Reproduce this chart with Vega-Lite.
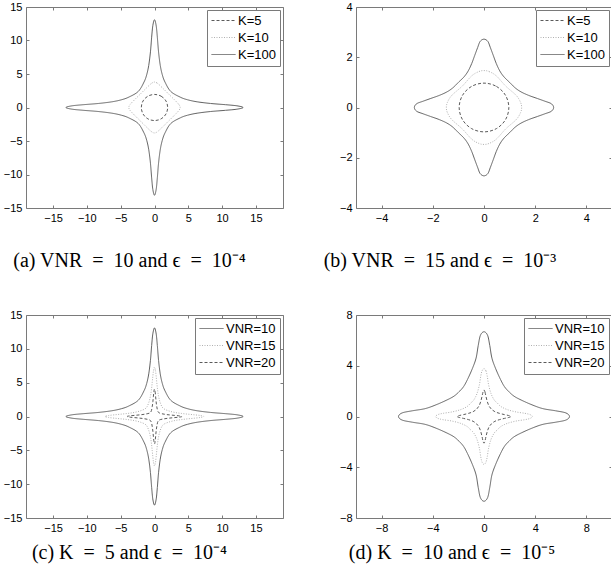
{
  "$schema": "https://vega.github.io/schema/vega-lite/v6.json",
  "padding": {"left": 2, "top": 0, "right": 0, "bottom": 0},
  "background": "white",
  "config": {
    "view": {"stroke": "#7a7a7a", "strokeWidth": 1},
    "axis": {"grid": false, "domain": false, "tickColor": "#7a7a7a", "tickSize": -3, "tickWidth": 1, "labelFont": "Liberation Sans", "labelFontSize": 11, "labelColor": "#000000", "labelPadding": 7, "title": null},
    "legend": {"orient": "top-right", "offset": 3, "padding": 4, "strokeColor": "#7a7a7a", "fillColor": "white", "symbolType": "M-1,0H3", "symbolSize": 144, "symbolStrokeWidth": 1, "labelFont": "Liberation Sans", "labelFontSize": 13, "labelColor": "#000000", "labelOffset": 14, "rowPadding": 3, "title": null, "cornerRadius": 0},
    "line": {"strokeWidth": 1, "interpolate": "cardinal-closed"},
    "title": {"font": "Liberation Serif", "fontSize": 20, "fontWeight": "normal", "color": "#000000", "orient": "bottom", "anchor": "middle"}
  },
  "datasets": {
    "a": [
      {"s":"K=100","x":0,"y":13.1},{"s":"K=100","x":0.25,"y":12.2},{"s":"K=100","x":0.42,"y":10.5},{"s":"K=100","x":0.6,"y":8.3},{"s":"K=100","x":0.85,"y":6.3},{"s":"K=100","x":1.15,"y":4.9},{"s":"K=100","x":1.55,"y":3.8},{"s":"K=100","x":2.4,"y":2.4},{"s":"K=100","x":3.8,"y":1.55},{"s":"K=100","x":4.9,"y":1.15},{"s":"K=100","x":6.3,"y":0.85},{"s":"K=100","x":8.3,"y":0.6},{"s":"K=100","x":10.5,"y":0.42},{"s":"K=100","x":12.2,"y":0.25},{"s":"K=100","x":13.1,"y":0},
      {"s":"K=100","x":12.2,"y":-0.25},{"s":"K=100","x":10.5,"y":-0.42},{"s":"K=100","x":8.3,"y":-0.6},{"s":"K=100","x":6.3,"y":-0.85},{"s":"K=100","x":4.9,"y":-1.15},{"s":"K=100","x":3.8,"y":-1.55},{"s":"K=100","x":2.4,"y":-2.4},{"s":"K=100","x":1.55,"y":-3.8},{"s":"K=100","x":1.15,"y":-4.9},{"s":"K=100","x":0.85,"y":-6.3},{"s":"K=100","x":0.6,"y":-8.3},{"s":"K=100","x":0.42,"y":-10.5},{"s":"K=100","x":0.25,"y":-12.2},{"s":"K=100","x":0,"y":-13.1},
      {"s":"K=100","x":-0.25,"y":-12.2},{"s":"K=100","x":-0.42,"y":-10.5},{"s":"K=100","x":-0.6,"y":-8.3},{"s":"K=100","x":-0.85,"y":-6.3},{"s":"K=100","x":-1.15,"y":-4.9},{"s":"K=100","x":-1.55,"y":-3.8},{"s":"K=100","x":-2.4,"y":-2.4},{"s":"K=100","x":-3.8,"y":-1.55},{"s":"K=100","x":-4.9,"y":-1.15},{"s":"K=100","x":-6.3,"y":-0.85},{"s":"K=100","x":-8.3,"y":-0.6},{"s":"K=100","x":-10.5,"y":-0.42},{"s":"K=100","x":-12.2,"y":-0.25},{"s":"K=100","x":-13.1,"y":0},
      {"s":"K=100","x":-12.2,"y":0.25},{"s":"K=100","x":-10.5,"y":0.42},{"s":"K=100","x":-8.3,"y":0.6},{"s":"K=100","x":-6.3,"y":0.85},{"s":"K=100","x":-4.9,"y":1.15},{"s":"K=100","x":-3.8,"y":1.55},{"s":"K=100","x":-2.4,"y":2.4},{"s":"K=100","x":-1.55,"y":3.8},{"s":"K=100","x":-1.15,"y":4.9},{"s":"K=100","x":-0.85,"y":6.3},{"s":"K=100","x":-0.6,"y":8.3},{"s":"K=100","x":-0.42,"y":10.5},{"s":"K=100","x":-0.25,"y":12.2},
      {"s":"K=10","x":0,"y":3.8},{"s":"K=10","x":0.45,"y":3.6},{"s":"K=10","x":1.1,"y":3},{"s":"K=10","x":2.05,"y":2.05},{"s":"K=10","x":3,"y":1.1},{"s":"K=10","x":3.6,"y":0.45},{"s":"K=10","x":3.8,"y":0},
      {"s":"K=10","x":3.6,"y":-0.45},{"s":"K=10","x":3,"y":-1.1},{"s":"K=10","x":2.05,"y":-2.05},{"s":"K=10","x":1.1,"y":-3},{"s":"K=10","x":0.45,"y":-3.6},{"s":"K=10","x":0,"y":-3.8},
      {"s":"K=10","x":-0.45,"y":-3.6},{"s":"K=10","x":-1.1,"y":-3},{"s":"K=10","x":-2.05,"y":-2.05},{"s":"K=10","x":-3,"y":-1.1},{"s":"K=10","x":-3.6,"y":-0.45},{"s":"K=10","x":-3.8,"y":0},
      {"s":"K=10","x":-3.6,"y":0.45},{"s":"K=10","x":-3,"y":1.1},{"s":"K=10","x":-2.05,"y":2.05},{"s":"K=10","x":-1.1,"y":3},{"s":"K=10","x":-0.45,"y":3.6},
      {"s":"K=5","x":0,"y":1.95},{"s":"K=5","x":0.98,"y":1.69},{"s":"K=5","x":1.69,"y":0.98},{"s":"K=5","x":1.95,"y":0},{"s":"K=5","x":1.69,"y":-0.98},{"s":"K=5","x":0.98,"y":-1.69},{"s":"K=5","x":0,"y":-1.95},{"s":"K=5","x":-0.98,"y":-1.69},{"s":"K=5","x":-1.69,"y":-0.98},{"s":"K=5","x":-1.95,"y":0},{"s":"K=5","x":-1.69,"y":0.98},{"s":"K=5","x":-0.98,"y":1.69}
    ],
    "b": [
      {"s":"K=100","x":0,"y":2.72},{"s":"K=100","x":0.15,"y":2.63},{"s":"K=100","x":0.25,"y":2.38},{"s":"K=100","x":0.36,"y":2.08},{"s":"K=100","x":0.48,"y":1.75},{"s":"K=100","x":0.62,"y":1.45},{"s":"K=100","x":0.78,"y":1.22},{"s":"K=100","x":1,"y":1},{"s":"K=100","x":1.22,"y":0.78},{"s":"K=100","x":1.45,"y":0.62},{"s":"K=100","x":1.75,"y":0.48},{"s":"K=100","x":2.08,"y":0.36},{"s":"K=100","x":2.38,"y":0.25},{"s":"K=100","x":2.63,"y":0.15},{"s":"K=100","x":2.72,"y":0},
      {"s":"K=100","x":2.63,"y":-0.15},{"s":"K=100","x":2.38,"y":-0.25},{"s":"K=100","x":2.08,"y":-0.36},{"s":"K=100","x":1.75,"y":-0.48},{"s":"K=100","x":1.45,"y":-0.62},{"s":"K=100","x":1.22,"y":-0.78},{"s":"K=100","x":1,"y":-1},{"s":"K=100","x":0.78,"y":-1.22},{"s":"K=100","x":0.62,"y":-1.45},{"s":"K=100","x":0.48,"y":-1.75},{"s":"K=100","x":0.36,"y":-2.08},{"s":"K=100","x":0.25,"y":-2.38},{"s":"K=100","x":0.15,"y":-2.63},{"s":"K=100","x":0,"y":-2.72},
      {"s":"K=100","x":-0.15,"y":-2.63},{"s":"K=100","x":-0.25,"y":-2.38},{"s":"K=100","x":-0.36,"y":-2.08},{"s":"K=100","x":-0.48,"y":-1.75},{"s":"K=100","x":-0.62,"y":-1.45},{"s":"K=100","x":-0.78,"y":-1.22},{"s":"K=100","x":-1,"y":-1},{"s":"K=100","x":-1.22,"y":-0.78},{"s":"K=100","x":-1.45,"y":-0.62},{"s":"K=100","x":-1.75,"y":-0.48},{"s":"K=100","x":-2.08,"y":-0.36},{"s":"K=100","x":-2.38,"y":-0.25},{"s":"K=100","x":-2.63,"y":-0.15},{"s":"K=100","x":-2.72,"y":0},
      {"s":"K=100","x":-2.63,"y":0.15},{"s":"K=100","x":-2.38,"y":0.25},{"s":"K=100","x":-2.08,"y":0.36},{"s":"K=100","x":-1.75,"y":0.48},{"s":"K=100","x":-1.45,"y":0.62},{"s":"K=100","x":-1.22,"y":0.78},{"s":"K=100","x":-1,"y":1},{"s":"K=100","x":-0.78,"y":1.22},{"s":"K=100","x":-0.62,"y":1.45},{"s":"K=100","x":-0.48,"y":1.75},{"s":"K=100","x":-0.36,"y":2.08},{"s":"K=100","x":-0.25,"y":2.38},{"s":"K=100","x":-0.15,"y":2.63},
      {"s":"K=10","x":0,"y":1.47},{"s":"K=10","x":0.2,"y":1.43},{"s":"K=10","x":0.48,"y":1.26},{"s":"K=10","x":0.85,"y":0.85},{"s":"K=10","x":1.26,"y":0.48},{"s":"K=10","x":1.43,"y":0.2},{"s":"K=10","x":1.47,"y":0},
      {"s":"K=10","x":1.43,"y":-0.2},{"s":"K=10","x":1.26,"y":-0.48},{"s":"K=10","x":0.85,"y":-0.85},{"s":"K=10","x":0.48,"y":-1.26},{"s":"K=10","x":0.2,"y":-1.43},{"s":"K=10","x":0,"y":-1.47},
      {"s":"K=10","x":-0.2,"y":-1.43},{"s":"K=10","x":-0.48,"y":-1.26},{"s":"K=10","x":-0.85,"y":-0.85},{"s":"K=10","x":-1.26,"y":-0.48},{"s":"K=10","x":-1.43,"y":-0.2},{"s":"K=10","x":-1.47,"y":0},
      {"s":"K=10","x":-1.43,"y":0.2},{"s":"K=10","x":-1.26,"y":0.48},{"s":"K=10","x":-0.85,"y":0.85},{"s":"K=10","x":-0.48,"y":1.26},{"s":"K=10","x":-0.2,"y":1.43},
      {"s":"K=5","x":0,"y":0.97},{"s":"K=5","x":0.485,"y":0.84},{"s":"K=5","x":0.84,"y":0.485},{"s":"K=5","x":0.97,"y":0},{"s":"K=5","x":0.84,"y":-0.485},{"s":"K=5","x":0.485,"y":-0.84},{"s":"K=5","x":0,"y":-0.97},{"s":"K=5","x":-0.485,"y":-0.84},{"s":"K=5","x":-0.84,"y":-0.485},{"s":"K=5","x":-0.97,"y":0},{"s":"K=5","x":-0.84,"y":0.485},{"s":"K=5","x":-0.485,"y":0.84}
    ],
    "c": [
      {"s":"VNR=10","x":0,"y":13.1},{"s":"VNR=10","x":0.25,"y":12.2},{"s":"VNR=10","x":0.42,"y":10.5},{"s":"VNR=10","x":0.6,"y":8.3},{"s":"VNR=10","x":0.85,"y":6.3},{"s":"VNR=10","x":1.15,"y":4.9},{"s":"VNR=10","x":1.55,"y":3.8},{"s":"VNR=10","x":2.4,"y":2.4},{"s":"VNR=10","x":3.8,"y":1.55},{"s":"VNR=10","x":4.9,"y":1.15},{"s":"VNR=10","x":6.3,"y":0.85},{"s":"VNR=10","x":8.3,"y":0.6},{"s":"VNR=10","x":10.5,"y":0.42},{"s":"VNR=10","x":12.2,"y":0.25},{"s":"VNR=10","x":13.1,"y":0},
      {"s":"VNR=10","x":12.2,"y":-0.25},{"s":"VNR=10","x":10.5,"y":-0.42},{"s":"VNR=10","x":8.3,"y":-0.6},{"s":"VNR=10","x":6.3,"y":-0.85},{"s":"VNR=10","x":4.9,"y":-1.15},{"s":"VNR=10","x":3.8,"y":-1.55},{"s":"VNR=10","x":2.4,"y":-2.4},{"s":"VNR=10","x":1.55,"y":-3.8},{"s":"VNR=10","x":1.15,"y":-4.9},{"s":"VNR=10","x":0.85,"y":-6.3},{"s":"VNR=10","x":0.6,"y":-8.3},{"s":"VNR=10","x":0.42,"y":-10.5},{"s":"VNR=10","x":0.25,"y":-12.2},{"s":"VNR=10","x":0,"y":-13.1},
      {"s":"VNR=10","x":-0.25,"y":-12.2},{"s":"VNR=10","x":-0.42,"y":-10.5},{"s":"VNR=10","x":-0.6,"y":-8.3},{"s":"VNR=10","x":-0.85,"y":-6.3},{"s":"VNR=10","x":-1.15,"y":-4.9},{"s":"VNR=10","x":-1.55,"y":-3.8},{"s":"VNR=10","x":-2.4,"y":-2.4},{"s":"VNR=10","x":-3.8,"y":-1.55},{"s":"VNR=10","x":-4.9,"y":-1.15},{"s":"VNR=10","x":-6.3,"y":-0.85},{"s":"VNR=10","x":-8.3,"y":-0.6},{"s":"VNR=10","x":-10.5,"y":-0.42},{"s":"VNR=10","x":-12.2,"y":-0.25},{"s":"VNR=10","x":-13.1,"y":0},
      {"s":"VNR=10","x":-12.2,"y":0.25},{"s":"VNR=10","x":-10.5,"y":0.42},{"s":"VNR=10","x":-8.3,"y":0.6},{"s":"VNR=10","x":-6.3,"y":0.85},{"s":"VNR=10","x":-4.9,"y":1.15},{"s":"VNR=10","x":-3.8,"y":1.55},{"s":"VNR=10","x":-2.4,"y":2.4},{"s":"VNR=10","x":-1.55,"y":3.8},{"s":"VNR=10","x":-1.15,"y":4.9},{"s":"VNR=10","x":-0.85,"y":6.3},{"s":"VNR=10","x":-0.6,"y":8.3},{"s":"VNR=10","x":-0.42,"y":10.5},{"s":"VNR=10","x":-0.25,"y":12.2},
      {"s":"VNR=15","x":0,"y":7.3},{"s":"VNR=15","x":0.14,"y":6.8},{"s":"VNR=15","x":0.24,"y":6},{"s":"VNR=15","x":0.34,"y":5},{"s":"VNR=15","x":0.45,"y":4},{"s":"VNR=15","x":0.6,"y":3},{"s":"VNR=15","x":0.85,"y":2.05},{"s":"VNR=15","x":1.25,"y":1.25},{"s":"VNR=15","x":2.05,"y":0.85},{"s":"VNR=15","x":3,"y":0.6},{"s":"VNR=15","x":4,"y":0.45},{"s":"VNR=15","x":5,"y":0.34},{"s":"VNR=15","x":6,"y":0.24},{"s":"VNR=15","x":6.8,"y":0.14},{"s":"VNR=15","x":7.3,"y":0},
      {"s":"VNR=15","x":6.8,"y":-0.14},{"s":"VNR=15","x":6,"y":-0.24},{"s":"VNR=15","x":5,"y":-0.34},{"s":"VNR=15","x":4,"y":-0.45},{"s":"VNR=15","x":3,"y":-0.6},{"s":"VNR=15","x":2.05,"y":-0.85},{"s":"VNR=15","x":1.25,"y":-1.25},{"s":"VNR=15","x":0.85,"y":-2.05},{"s":"VNR=15","x":0.6,"y":-3},{"s":"VNR=15","x":0.45,"y":-4},{"s":"VNR=15","x":0.34,"y":-5},{"s":"VNR=15","x":0.24,"y":-6},{"s":"VNR=15","x":0.14,"y":-6.8},{"s":"VNR=15","x":0,"y":-7.3},
      {"s":"VNR=15","x":-0.14,"y":-6.8},{"s":"VNR=15","x":-0.24,"y":-6},{"s":"VNR=15","x":-0.34,"y":-5},{"s":"VNR=15","x":-0.45,"y":-4},{"s":"VNR=15","x":-0.6,"y":-3},{"s":"VNR=15","x":-0.85,"y":-2.05},{"s":"VNR=15","x":-1.25,"y":-1.25},{"s":"VNR=15","x":-2.05,"y":-0.85},{"s":"VNR=15","x":-3,"y":-0.6},{"s":"VNR=15","x":-4,"y":-0.45},{"s":"VNR=15","x":-5,"y":-0.34},{"s":"VNR=15","x":-6,"y":-0.24},{"s":"VNR=15","x":-6.8,"y":-0.14},{"s":"VNR=15","x":-7.3,"y":0},
      {"s":"VNR=15","x":-6.8,"y":0.14},{"s":"VNR=15","x":-6,"y":0.24},{"s":"VNR=15","x":-5,"y":0.34},{"s":"VNR=15","x":-4,"y":0.45},{"s":"VNR=15","x":-3,"y":0.6},{"s":"VNR=15","x":-2.05,"y":0.85},{"s":"VNR=15","x":-1.25,"y":1.25},{"s":"VNR=15","x":-0.85,"y":2.05},{"s":"VNR=15","x":-0.6,"y":3},{"s":"VNR=15","x":-0.45,"y":4},{"s":"VNR=15","x":-0.34,"y":5},{"s":"VNR=15","x":-0.24,"y":6},{"s":"VNR=15","x":-0.14,"y":6.8},
      {"s":"VNR=20","x":0,"y":4.05},{"s":"VNR=20","x":0.09,"y":3.7},{"s":"VNR=20","x":0.16,"y":3},{"s":"VNR=20","x":0.24,"y":2.2},{"s":"VNR=20","x":0.34,"y":1.45},{"s":"VNR=20","x":0.6,"y":0.6},{"s":"VNR=20","x":1.45,"y":0.34},{"s":"VNR=20","x":2.2,"y":0.24},{"s":"VNR=20","x":3,"y":0.16},{"s":"VNR=20","x":3.7,"y":0.09},{"s":"VNR=20","x":4.05,"y":0},
      {"s":"VNR=20","x":3.7,"y":-0.09},{"s":"VNR=20","x":3,"y":-0.16},{"s":"VNR=20","x":2.2,"y":-0.24},{"s":"VNR=20","x":1.45,"y":-0.34},{"s":"VNR=20","x":0.6,"y":-0.6},{"s":"VNR=20","x":0.34,"y":-1.45},{"s":"VNR=20","x":0.24,"y":-2.2},{"s":"VNR=20","x":0.16,"y":-3},{"s":"VNR=20","x":0.09,"y":-3.7},{"s":"VNR=20","x":0,"y":-4.05},
      {"s":"VNR=20","x":-0.09,"y":-3.7},{"s":"VNR=20","x":-0.16,"y":-3},{"s":"VNR=20","x":-0.24,"y":-2.2},{"s":"VNR=20","x":-0.34,"y":-1.45},{"s":"VNR=20","x":-0.6,"y":-0.6},{"s":"VNR=20","x":-1.45,"y":-0.34},{"s":"VNR=20","x":-2.2,"y":-0.24},{"s":"VNR=20","x":-3,"y":-0.16},{"s":"VNR=20","x":-3.7,"y":-0.09},{"s":"VNR=20","x":-4.05,"y":0},
      {"s":"VNR=20","x":-3.7,"y":0.09},{"s":"VNR=20","x":-3,"y":0.16},{"s":"VNR=20","x":-2.2,"y":0.24},{"s":"VNR=20","x":-1.45,"y":0.34},{"s":"VNR=20","x":-0.6,"y":0.6},{"s":"VNR=20","x":-0.34,"y":1.45},{"s":"VNR=20","x":-0.24,"y":2.2},{"s":"VNR=20","x":-0.16,"y":3},{"s":"VNR=20","x":-0.09,"y":3.7}
    ],
    "d": [
      {"s":"VNR=10","x":0,"y":6.68},{"s":"VNR=10","x":0.28,"y":6.4},{"s":"VNR=10","x":0.45,"y":5.6},{"s":"VNR=10","x":0.62,"y":4.6},{"s":"VNR=10","x":0.92,"y":3.75},{"s":"VNR=10","x":1.3,"y":2.9},{"s":"VNR=10","x":1.6,"y":2.35},{"s":"VNR=10","x":1.95,"y":1.95},{"s":"VNR=10","x":2.35,"y":1.6},{"s":"VNR=10","x":2.9,"y":1.3},{"s":"VNR=10","x":3.75,"y":0.92},{"s":"VNR=10","x":4.6,"y":0.62},{"s":"VNR=10","x":5.6,"y":0.45},{"s":"VNR=10","x":6.4,"y":0.28},{"s":"VNR=10","x":6.68,"y":0},
      {"s":"VNR=10","x":6.4,"y":-0.28},{"s":"VNR=10","x":5.6,"y":-0.45},{"s":"VNR=10","x":4.6,"y":-0.62},{"s":"VNR=10","x":3.75,"y":-0.92},{"s":"VNR=10","x":2.9,"y":-1.3},{"s":"VNR=10","x":2.35,"y":-1.6},{"s":"VNR=10","x":1.95,"y":-1.95},{"s":"VNR=10","x":1.6,"y":-2.35},{"s":"VNR=10","x":1.3,"y":-2.9},{"s":"VNR=10","x":0.92,"y":-3.75},{"s":"VNR=10","x":0.62,"y":-4.6},{"s":"VNR=10","x":0.45,"y":-5.6},{"s":"VNR=10","x":0.28,"y":-6.4},{"s":"VNR=10","x":0,"y":-6.68},
      {"s":"VNR=10","x":-0.28,"y":-6.4},{"s":"VNR=10","x":-0.45,"y":-5.6},{"s":"VNR=10","x":-0.62,"y":-4.6},{"s":"VNR=10","x":-0.92,"y":-3.75},{"s":"VNR=10","x":-1.3,"y":-2.9},{"s":"VNR=10","x":-1.6,"y":-2.35},{"s":"VNR=10","x":-1.95,"y":-1.95},{"s":"VNR=10","x":-2.35,"y":-1.6},{"s":"VNR=10","x":-2.9,"y":-1.3},{"s":"VNR=10","x":-3.75,"y":-0.92},{"s":"VNR=10","x":-4.6,"y":-0.62},{"s":"VNR=10","x":-5.6,"y":-0.45},{"s":"VNR=10","x":-6.4,"y":-0.28},{"s":"VNR=10","x":-6.68,"y":0},
      {"s":"VNR=10","x":-6.4,"y":0.28},{"s":"VNR=10","x":-5.6,"y":0.45},{"s":"VNR=10","x":-4.6,"y":0.62},{"s":"VNR=10","x":-3.75,"y":0.92},{"s":"VNR=10","x":-2.9,"y":1.3},{"s":"VNR=10","x":-2.35,"y":1.6},{"s":"VNR=10","x":-1.95,"y":1.95},{"s":"VNR=10","x":-1.6,"y":2.35},{"s":"VNR=10","x":-1.3,"y":2.9},{"s":"VNR=10","x":-0.92,"y":3.75},{"s":"VNR=10","x":-0.62,"y":4.6},{"s":"VNR=10","x":-0.45,"y":5.6},{"s":"VNR=10","x":-0.28,"y":6.4},
      {"s":"VNR=15","x":0,"y":3.78},{"s":"VNR=15","x":0.15,"y":3.6},{"s":"VNR=15","x":0.25,"y":3.2},{"s":"VNR=15","x":0.36,"y":2.5},{"s":"VNR=15","x":0.55,"y":1.8},{"s":"VNR=15","x":0.8,"y":1.3},{"s":"VNR=15","x":1.05,"y":1.05},{"s":"VNR=15","x":1.3,"y":0.8},{"s":"VNR=15","x":1.8,"y":0.55},{"s":"VNR=15","x":2.5,"y":0.36},{"s":"VNR=15","x":3.2,"y":0.25},{"s":"VNR=15","x":3.6,"y":0.15},{"s":"VNR=15","x":3.78,"y":0},
      {"s":"VNR=15","x":3.6,"y":-0.15},{"s":"VNR=15","x":3.2,"y":-0.25},{"s":"VNR=15","x":2.5,"y":-0.36},{"s":"VNR=15","x":1.8,"y":-0.55},{"s":"VNR=15","x":1.3,"y":-0.8},{"s":"VNR=15","x":1.05,"y":-1.05},{"s":"VNR=15","x":0.8,"y":-1.3},{"s":"VNR=15","x":0.55,"y":-1.8},{"s":"VNR=15","x":0.36,"y":-2.5},{"s":"VNR=15","x":0.25,"y":-3.2},{"s":"VNR=15","x":0.15,"y":-3.6},{"s":"VNR=15","x":0,"y":-3.78},
      {"s":"VNR=15","x":-0.15,"y":-3.6},{"s":"VNR=15","x":-0.25,"y":-3.2},{"s":"VNR=15","x":-0.36,"y":-2.5},{"s":"VNR=15","x":-0.55,"y":-1.8},{"s":"VNR=15","x":-0.8,"y":-1.3},{"s":"VNR=15","x":-1.05,"y":-1.05},{"s":"VNR=15","x":-1.3,"y":-0.8},{"s":"VNR=15","x":-1.8,"y":-0.55},{"s":"VNR=15","x":-2.5,"y":-0.36},{"s":"VNR=15","x":-3.2,"y":-0.25},{"s":"VNR=15","x":-3.6,"y":-0.15},{"s":"VNR=15","x":-3.78,"y":0},
      {"s":"VNR=15","x":-3.6,"y":0.15},{"s":"VNR=15","x":-3.2,"y":0.25},{"s":"VNR=15","x":-2.5,"y":0.36},{"s":"VNR=15","x":-1.8,"y":0.55},{"s":"VNR=15","x":-1.3,"y":0.8},{"s":"VNR=15","x":-1.05,"y":1.05},{"s":"VNR=15","x":-0.8,"y":1.3},{"s":"VNR=15","x":-0.55,"y":1.8},{"s":"VNR=15","x":-0.36,"y":2.5},{"s":"VNR=15","x":-0.25,"y":3.2},{"s":"VNR=15","x":-0.15,"y":3.6},
      {"s":"VNR=20","x":0,"y":2.1},{"s":"VNR=20","x":0.08,"y":1.92},{"s":"VNR=20","x":0.15,"y":1.6},{"s":"VNR=20","x":0.25,"y":1.2},{"s":"VNR=20","x":0.38,"y":0.85},{"s":"VNR=20","x":0.58,"y":0.58},{"s":"VNR=20","x":0.85,"y":0.38},{"s":"VNR=20","x":1.2,"y":0.25},{"s":"VNR=20","x":1.6,"y":0.15},{"s":"VNR=20","x":1.92,"y":0.08},{"s":"VNR=20","x":2.1,"y":0},
      {"s":"VNR=20","x":1.92,"y":-0.08},{"s":"VNR=20","x":1.6,"y":-0.15},{"s":"VNR=20","x":1.2,"y":-0.25},{"s":"VNR=20","x":0.85,"y":-0.38},{"s":"VNR=20","x":0.58,"y":-0.58},{"s":"VNR=20","x":0.38,"y":-0.85},{"s":"VNR=20","x":0.25,"y":-1.2},{"s":"VNR=20","x":0.15,"y":-1.6},{"s":"VNR=20","x":0.08,"y":-1.92},{"s":"VNR=20","x":0,"y":-2.1},
      {"s":"VNR=20","x":-0.08,"y":-1.92},{"s":"VNR=20","x":-0.15,"y":-1.6},{"s":"VNR=20","x":-0.25,"y":-1.2},{"s":"VNR=20","x":-0.38,"y":-0.85},{"s":"VNR=20","x":-0.58,"y":-0.58},{"s":"VNR=20","x":-0.85,"y":-0.38},{"s":"VNR=20","x":-1.2,"y":-0.25},{"s":"VNR=20","x":-1.6,"y":-0.15},{"s":"VNR=20","x":-1.92,"y":-0.08},{"s":"VNR=20","x":-2.1,"y":0},
      {"s":"VNR=20","x":-1.92,"y":0.08},{"s":"VNR=20","x":-1.6,"y":0.15},{"s":"VNR=20","x":-1.2,"y":0.25},{"s":"VNR=20","x":-0.85,"y":0.38},{"s":"VNR=20","x":-0.58,"y":0.58},{"s":"VNR=20","x":-0.38,"y":0.85},{"s":"VNR=20","x":-0.25,"y":1.2},{"s":"VNR=20","x":-0.15,"y":1.6},{"s":"VNR=20","x":-0.08,"y":1.92}
    ]
  },
  "bounds": "flush",
  "columns": 2,
  "spacing": {"row": 107, "column": 73},
  "resolve": {"scale": {"color": "independent", "strokeDash": "independent", "x": "independent", "y": "independent"}, "legend": {"color": "independent", "strokeDash": "independent"}},
  "concat": [
    {
      "width": 257, "height": 201,
      "title": {"text": "(a) VNR\u2002=\u200210 and ϵ\u2002=\u200210⁻⁴", "offset": 28, "dx": -25},
      "data": {"name": "a"},
      "layer": [
        {"mark": {"type": "line"},
         "encoding": {
           "x": {"field": "x", "type": "quantitative", "scale": {"domain": [-19, 19], "nice": false, "zero": false}, "axis": {"orient": "bottom", "values": [-15, -10, -5, 0, 5, 10, 15]}},
           "y": {"field": "y", "type": "quantitative", "scale": {"domain": [-15, 15], "nice": false, "zero": false}, "axis": {"orient": "left", "values": [-15, -10, -5, 0, 5, 10, 15]}},
           "color": {"field": "s", "type": "nominal", "scale": {"domain": ["K=5", "K=10", "K=100"], "range": ["#5a5a5a", "#b0b0b0", "#606060"]}, "legend": {"title": null}},
           "strokeDash": {"field": "s", "type": "nominal", "scale": {"domain": ["K=5", "K=10", "K=100"], "range": [[3, 2], [1, 1.5], [1, 0]]}, "legend": {"title": null}},
           "order": {"value": null}
         }},
        {"mark": {"type": "point", "opacity": 0},
         "encoding": {
           "x": {"field": "x", "type": "quantitative", "axis": {"orient": "top", "labels": false, "values": [-15, -10, -5, 0, 5, 10, 15]}},
           "y": {"field": "y", "type": "quantitative", "axis": {"orient": "right", "labels": false, "values": [-15, -10, -5, 0, 5, 10, 15]}}
         }}
      ],
      "resolve": {"axis": {"x": "independent", "y": "independent"}}
    },
    {
      "width": 256, "height": 201,
      "title": {"text": "(b) VNR\u2002=\u200215 and ϵ\u2002=\u200210⁻³", "offset": 28, "dx": -44},
      "data": {"name": "b"},
      "layer": [
        {"mark": {"type": "line"},
         "encoding": {
           "x": {"field": "x", "type": "quantitative", "scale": {"domain": [-5, 5], "nice": false, "zero": false}, "axis": {"orient": "bottom", "values": [-4, -2, 0, 2, 4]}},
           "y": {"field": "y", "type": "quantitative", "scale": {"domain": [-4, 4], "nice": false, "zero": false}, "axis": {"orient": "left", "values": [-4, -2, 0, 2, 4]}},
           "color": {"field": "s", "type": "nominal", "scale": {"domain": ["K=5", "K=10", "K=100"], "range": ["#5a5a5a", "#b0b0b0", "#606060"]}, "legend": {"title": null}},
           "strokeDash": {"field": "s", "type": "nominal", "scale": {"domain": ["K=5", "K=10", "K=100"], "range": [[3, 2], [1, 1.5], [1, 0]]}, "legend": {"title": null}},
           "order": {"value": null}
         }},
        {"mark": {"type": "point", "opacity": 0},
         "encoding": {
           "x": {"field": "x", "type": "quantitative", "axis": {"orient": "top", "labels": false, "values": [-4, -2, 0, 2, 4]}},
           "y": {"field": "y", "type": "quantitative", "axis": {"orient": "right", "labels": false, "values": [-4, -2, 0, 2, 4]}}
         }}
      ],
      "resolve": {"axis": {"x": "independent", "y": "independent"}}
    },
    {
      "width": 257, "height": 203,
      "title": {"text": "(c) K\u2002=\u20025 and ϵ\u2002=\u200210⁻⁴", "offset": 10, "dx": -25},
      "data": {"name": "c"},
      "layer": [
        {"mark": {"type": "line"},
         "encoding": {
           "x": {"field": "x", "type": "quantitative", "scale": {"domain": [-19, 19], "nice": false, "zero": false}, "axis": {"orient": "bottom", "values": [-15, -10, -5, 0, 5, 10, 15]}},
           "y": {"field": "y", "type": "quantitative", "scale": {"domain": [-15, 15], "nice": false, "zero": false}, "axis": {"orient": "left", "values": [-15, -10, -5, 0, 5, 10, 15]}},
           "color": {"field": "s", "type": "nominal", "scale": {"domain": ["VNR=10", "VNR=15", "VNR=20"], "range": ["#606060", "#b0b0b0", "#5a5a5a"]}, "legend": {"title": null}},
           "strokeDash": {"field": "s", "type": "nominal", "scale": {"domain": ["VNR=10", "VNR=15", "VNR=20"], "range": [[1, 0], [1, 1.5], [3, 2]]}, "legend": {"title": null}},
           "order": {"value": null}
         }},
        {"mark": {"type": "point", "opacity": 0},
         "encoding": {
           "x": {"field": "x", "type": "quantitative", "axis": {"orient": "top", "labels": false, "values": [-15, -10, -5, 0, 5, 10, 15]}},
           "y": {"field": "y", "type": "quantitative", "axis": {"orient": "right", "labels": false, "values": [-15, -10, -5, 0, 5, 10, 15]}}
         }}
      ],
      "resolve": {"axis": {"x": "independent", "y": "independent"}}
    },
    {
      "width": 256, "height": 203,
      "title": {"text": "(d) K\u2002=\u200210 and ϵ\u2002=\u200210⁻⁵", "offset": 10, "dx": -32},
      "data": {"name": "d"},
      "layer": [
        {"mark": {"type": "line"},
         "encoding": {
           "x": {"field": "x", "type": "quantitative", "scale": {"domain": [-10, 10], "nice": false, "zero": false}, "axis": {"orient": "bottom", "values": [-8, -4, 0, 4, 8]}},
           "y": {"field": "y", "type": "quantitative", "scale": {"domain": [-8, 8], "nice": false, "zero": false}, "axis": {"orient": "left", "values": [-8, -4, 0, 4, 8]}},
           "color": {"field": "s", "type": "nominal", "scale": {"domain": ["VNR=10", "VNR=15", "VNR=20"], "range": ["#606060", "#b0b0b0", "#5a5a5a"]}, "legend": {"title": null}},
           "strokeDash": {"field": "s", "type": "nominal", "scale": {"domain": ["VNR=10", "VNR=15", "VNR=20"], "range": [[1, 0], [1, 1.5], [3, 2]]}, "legend": {"title": null}},
           "order": {"value": null}
         }},
        {"mark": {"type": "point", "opacity": 0},
         "encoding": {
           "x": {"field": "x", "type": "quantitative", "axis": {"orient": "top", "labels": false, "values": [-8, -4, 0, 4, 8]}},
           "y": {"field": "y", "type": "quantitative", "axis": {"orient": "right", "labels": false, "values": [-8, -4, 0, 4, 8]}}
         }}
      ],
      "resolve": {"axis": {"x": "independent", "y": "independent"}}
    }
  ]
}
